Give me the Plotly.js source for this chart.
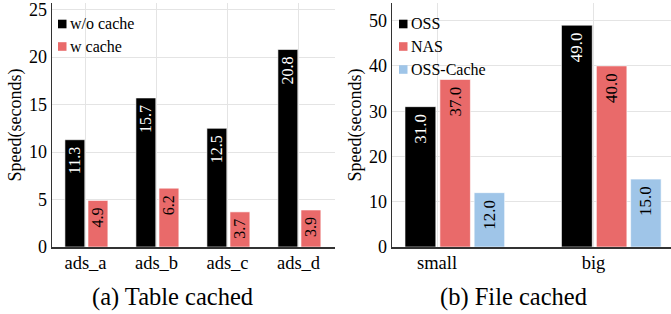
<!DOCTYPE html>
<html>
<head>
<meta charset="utf-8">
<script src="https://cdn.plot.ly/plotly-3.0.1.min.js"></script>
<style>html,body{margin:0;padding:0;background:#fff}#chart{width:671px;height:314px}</style>
</head>
<body>
<div id="chart"></div>
<script>
// ---- data ----
const tableCategories = ['ads_a', 'ads_b', 'ads_c', 'ads_d'];
const withoutCache = [11.3, 15.7, 12.5, 20.8];
const withCache = [4.9, 6.2, 3.7, 3.9];

const fileCategories = ['small', 'big'];
const ossValues = [31.0, 49.0];
const nasValues = [37.0, 40.0];
const ossCacheValues = [12.0, 15.0];

// ---- style ----
const W = 671, H = 314;
const FONT = 'Liberation Serif';
const BLACK = '#000000', RED = '#E96A6A', BLUE = '#9FC5E8';
const GRID = '#e4e4e4', AXIS = '#333333';
const px = x => x / W;
const py = y => 1 - y / H;

function barTrace(x, y, name, color, textColor, xa, ya, width, offset, fs) {
  return {
    type: 'bar', name: name, x: x, y: y, xaxis: xa, yaxis: ya,
    width: width, offset: offset,
    marker: {color: color, line: {color: '#ffffff', width: 0.6}},
    texttemplate: '%{y:.1f} ', textposition: 'inside', insidetextanchor: 'end',
    textangle: -90, constraintext: 'none',
    textfont: {family: FONT, size: fs, color: textColor},
    showlegend: false, hoverinfo: 'skip'
  };
}

const data = [
  barTrace(tableCategories, withoutCache, 'w/o cache', BLACK, '#ffffff', 'x', 'y', 0.28, -0.29, 16),
  barTrace(tableCategories, withCache, 'w cache', RED, '#000000', 'x', 'y', 0.28, 0.035, 16),
  barTrace(fileCategories, ossValues, 'OSS', BLACK, '#ffffff', 'x2', 'y2', 0.197, -0.205, 17),
  barTrace(fileCategories, nasValues, 'NAS', RED, '#000000', 'x2', 'y2', 0.195, 0.018, 17),
  barTrace(fileCategories, ossCacheValues, 'OSS-Cache', BLUE, '#000000', 'x2', 'y2', 0.195, 0.237, 17)
];

const yDom = [py(247), py(3)];
function xAxis(domain, range, anchor) {
  return {
    domain: domain, range: range, type: 'category', anchor: anchor,
    showgrid: true, gridcolor: GRID, gridwidth: 1,
    showline: true, linecolor: AXIS, linewidth: 1.5,
    ticks: '', ticklabelstandoff: -2,
    tickfont: {family: FONT, size: 18.5, color: '#000'},
    zeroline: false, fixedrange: true
  };
}
function yAxis(range, dtick, anchor) {
  return {
    domain: yDom, range: range, anchor: anchor, type: 'linear',
    tick0: 0, dtick: dtick, ticklabeloverflow: 'allow',
    showgrid: true, gridcolor: GRID, gridwidth: 1,
    showline: true, linecolor: AXIS, linewidth: 1.5,
    ticks: '', tickfont: {family: FONT, size: 18, color: '#000'},
    title: {text: 'Speed(seconds)', font: {family: FONT, size: 18, color: '#000'}, standoff: 2},
    zeroline: false, fixedrange: true
  };
}

const legendItems = [
  {name: 'w/o cache', color: BLACK, x: 58, y: 24},
  {name: 'w cache', color: RED, x: 58, y: 46.5},
  {name: 'OSS', color: BLACK, x: 399, y: 24},
  {name: 'NAS', color: RED, x: 399, y: 46.5},
  {name: 'OSS-Cache', color: BLUE, x: 399, y: 69.5}
];
const shapes = legendItems.map(it => ({
  type: 'rect', xref: 'paper', yref: 'paper',
  x0: px(it.x), x1: px(it.x + 8.5), y0: py(it.y + 4.3), y1: py(it.y - 4.3),
  fillcolor: it.color, line: {width: 0}
}));
const annotations = legendItems.map(it => ({
  xref: 'paper', yref: 'paper', x: px(it.x + 10), y: py(it.y),
  xanchor: 'left', yanchor: 'middle', showarrow: false,
  text: it.name, font: {family: FONT, size: 16, color: '#000'}
}));
annotations.push(
  {xref: 'paper', yref: 'paper', x: px(172), y: py(297), xanchor: 'center', yanchor: 'middle',
   showarrow: false, text: '(a) Table cached', font: {family: FONT, size: 24.5, color: '#000'}},
  {xref: 'paper', yref: 'paper', x: px(513), y: py(297), xanchor: 'center', yanchor: 'middle',
   showarrow: false, text: '(b) File cached', font: {family: FONT, size: 24.5, color: '#000'}}
);

const layout = {
  width: W, height: H,
  margin: {l: 0, r: 0, t: 0, b: 0},
  paper_bgcolor: '#ffffff', plot_bgcolor: '#ffffff',
  barmode: 'overlay',
  showlegend: false,
  xaxis: xAxis([px(52), px(335)], [-0.472, 3.514], 'y'),
  yaxis: yAxis([0, 25.7], 5, 'x'),
  xaxis2: xAxis([px(392), 1], [-0.288, 1.495], 'y2'),
  yaxis2: yAxis([0, 53.9], 10, 'x2'),
  shapes: shapes,
  annotations: annotations,
  font: {family: FONT}
};

Plotly.newPlot('chart', data, layout, {displayModeBar: false, staticPlot: true});
</script>
</body>
</html>
